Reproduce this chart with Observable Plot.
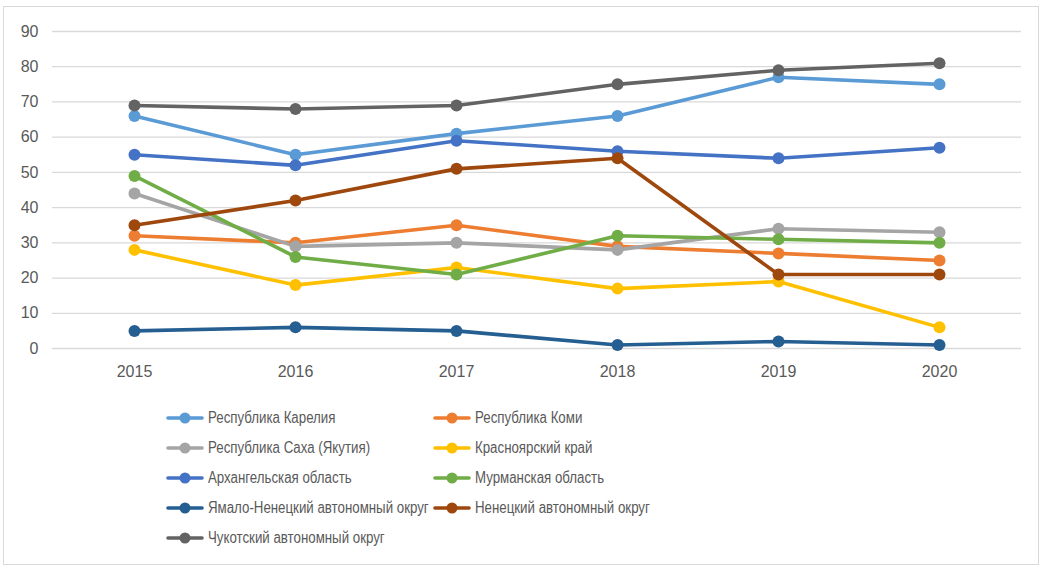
<!DOCTYPE html>
<html>
<head>
<meta charset="utf-8">
<script src="https://cdn.jsdelivr.net/npm/d3@7"></script>
<script src="https://cdn.jsdelivr.net/npm/@observablehq/plot@0.6"></script>
<style>
  html, body { margin: 0; padding: 0; background: #fff; }
  #frame { position: absolute; left: 3px; top: 6px; width: 1036px; height: 559px; border: 1px solid #d9d9d9; box-sizing: border-box; }
  #chart { position: absolute; left: 0; top: 0; }
  .lg { position: absolute; display: flex; align-items: center; font-family: "Liberation Sans", sans-serif; font-size: 16px; color: #595959; white-space: nowrap; }
  .lg svg { margin-right: 4px; }
  .lg span { display: inline-block; transform: scaleX(0.83); transform-origin: 0 50%; }
</style>
</head>
<body>
<div id="frame"></div>
<div id="chart"></div>
<div id="legend"></div>
<script>
const years = [2015, 2016, 2017, 2018, 2019, 2020];
const seriesNames = [
  "Республика Карелия",
  "Республика Коми",
  "Республика Саха (Якутия)",
  "Красноярский край",
  "Архангельская область",
  "Мурманская область",
  "Ямало-Ненецкий автономный округ",
  "Ненецкий автономный округ",
  "Чукотский автономный округ"
];
const seriesColors = ["#5B9BD5", "#ED7D31", "#A5A5A5", "#FFC000", "#4472C4", "#70AD47", "#255E91", "#9E480E", "#636363"];
const karelia     = [66, 55, 61, 66, 77, 75];
const komi        = [32, 30, 35, 29, 27, 25];
const sakha       = [44, 29, 30, 28, 34, 33];
const krasnoyarsk = [28, 18, 23, 17, 19, 6];
const arkhangelsk = [55, 52, 59, 56, 54, 57];
const murmansk    = [49, 26, 21, 32, 31, 30];
const yanao       = [5, 6, 5, 1, 2, 1];
const nao         = [35, 42, 51, 54, 21, 21];
const chukotka    = [69, 68, 69, 75, 79, 81];
const yTicks = [0, 10, 20, 30, 40, 50, 60, 70, 80, 90];

const seriesValues = [karelia, komi, sakha, krasnoyarsk, arkhangelsk, murmansk, yanao, nao, chukotka];
const data = [];
seriesNames.forEach((name, i) => {
  years.forEach((yr, j) => data.push({series: name, year: String(yr), value: seriesValues[i][j]}));
});

const chart = Plot.plot({
  width: 1043,
  height: 395,
  marginLeft: 52,
  marginRight: 22,
  marginTop: 31,
  marginBottom: 47,
  style: {fontFamily: "'Liberation Sans', sans-serif", fontSize: "16px", color: "#595959", background: "transparent"},
  x: {type: "point", domain: years.map(String), padding: 0.5, label: null},
  y: {domain: [0, 90], label: null},
  color: {domain: seriesNames, range: seriesColors},
  marks: [
    Plot.ruleY(yTicks, {stroke: "#d9d9d9", strokeWidth: 1.3}),
    Plot.axisY({ticks: yTicks, tickSize: 0, tickPadding: 14, label: null, fill: "#595959"}),
    Plot.axisX({tickSize: 0, tickPadding: 17, label: null, fill: "#595959"}),
    Plot.line(data, {x: "year", y: "value", z: "series", stroke: "series", strokeWidth: 3.6, strokeLinejoin: "round", strokeLinecap: "round"}),
    Plot.dot(data, {x: "year", y: "value", fill: "series", r: 6, stroke: "none"})
  ]
});
document.getElementById("chart").appendChild(chart);

// Legend
const legend = document.getElementById("legend");
const rows = [418, 448, 478, 508, 538];
const cols = [166, 433];
seriesNames.forEach((name, i) => {
  const r = Math.floor(i / 2), c = i % 2;
  const item = document.createElement("div");
  item.className = "lg";
  item.style.left = cols[c] + "px";
  item.style.top = (rows[r] - 11) + "px";
  item.style.height = "22px";
  const col = seriesColors[i];
  item.innerHTML = `<svg width="38" height="14"><line x1="2" y1="7" x2="36" y2="7" stroke="${col}" stroke-width="3.6" stroke-linecap="round"/><circle cx="19" cy="7" r="5.5" fill="${col}"/></svg><span>${name}</span>`;
  legend.appendChild(item);
});
</script>
</body>
</html>
